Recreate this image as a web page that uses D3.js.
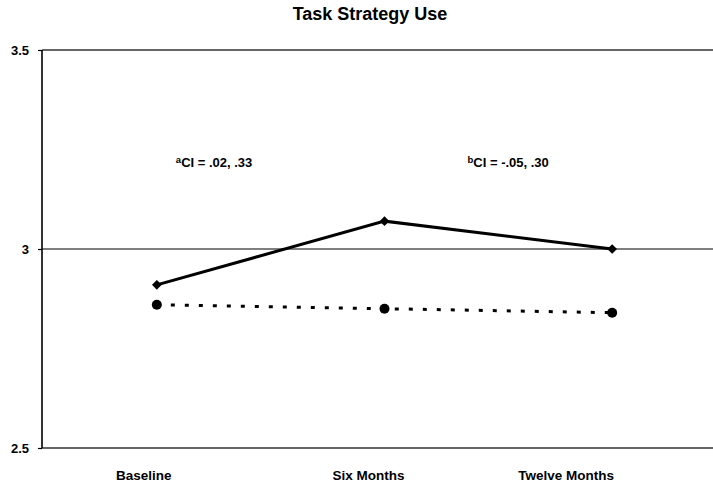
<!DOCTYPE html>
<html>
<head>
<meta charset="utf-8">
<script src="https://cdn.jsdelivr.net/npm/d3@7"></script>
<style>
  body { margin: 0; background: #fff; }
  svg { display: block; font-family: "Liberation Sans", Arial, sans-serif; }
  .tick text { font-weight: bold; fill: #000; }
</style>
</head>
<body>
<div id="chart"></div>
<script>
// data van de grafiek
const categories = ["Baseline", "Six Months", "Twelve Months"];
const solidValues = [2.91, 3.07, 3.00];
const dashedValues = [2.86, 2.85, 2.84];
const yTicks = [2.5, 3, 3.5];
const ciNotes = [
  {sup: "a", text: "CI = .02, .33"},
  {sup: "b", text: "CI = -.05, .30"}
];

// afmetingen
const width = 713;
const height = 484;
const plot = {left: 42, right: 713, top: 50, bottom: 448};

const svg = d3.select("#chart")
  .append("svg")
    .attr("width", width)
    .attr("height", height);

// schalen
const xScale = d3.scaleBand()
    .domain(categories)
    .range([43, 726]);

const yScale = d3.scaleLinear()
    .domain([2.5, 3.5])
    .range([plot.bottom, plot.top]);

const xc = function (d, i) { return xScale(categories[i]) + xScale.bandwidth() / 2; };

// titel
svg.append("text")
    .attr("x", 370)
    .attr("y", 20)
    .attr("text-anchor", "middle")
    .style("font-size", "18px")
    .style("font-weight", "bold")
    .text("Task Strategy Use");

// rasterlijnen
svg.append("g")
    .selectAll("line")
    .data(yTicks)
    .join("line")
      .attr("x1", plot.left)
      .attr("x2", plot.right)
      .attr("y1", d => yScale(d))
      .attr("y2", d => yScale(d))
      .attr("stroke", d => d == 3 ? "#555" : "#333")
      .attr("stroke-width", 1.4);

// y-as
const yAxis = svg.append("g")
    .attr("transform", "translate(" + plot.left + ",0)")
    .call(d3.axisLeft(yScale)
      .tickValues(yTicks)
      .tickSize(4)
      .tickPadding(9)
      .tickFormat(d => String(d)));
yAxis.select(".domain").remove();
yAxis.selectAll(".tick line").attr("stroke", "#000").attr("stroke-width", 1.2);
yAxis.selectAll(".tick text").style("font-size", "13px");

svg.append("line")
    .attr("x1", plot.left).attr("x2", plot.left)
    .attr("y1", plot.top).attr("y2", plot.bottom)
    .attr("stroke", "#000")
    .attr("stroke-width", 1.6);

// x-as labels
const labelNudge = [-13, -16, -46];
const xAxis = svg.append("g")
    .attr("transform", "translate(0," + plot.bottom + ")")
    .call(d3.axisBottom(xScale).tickSize(0).tickPadding(22));
xAxis.select(".domain").remove();
xAxis.selectAll(".tick text")
    .style("font-size", "13.5px")
    .attr("dx", (d, i) => labelNudge[i]);

// CI notities
const notePos = [{dx: 19, cat: 0}, {dx: 83, cat: 1}];
const notes = svg.append("g")
  .selectAll("text")
  .data(ciNotes)
  .join("text")
    .attr("x", (d, i) => xc(null, notePos[i].cat) + notePos[i].dx)
    .attr("y", yScale(3.208))
    .style("font-size", "13px")
    .style("font-weight", "bold");
notes.append("tspan")
    .attr("dy", "-0.35em")
    .style("font-size", "9.5px")
    .text(d => d.sup);
notes.append("tspan")
    .attr("dy", "0.35em")
    .text(d => d.text);

// lijnen
const line = d3.line()
    .x(xc)
    .y(d => yScale(d));

svg.append("path")
    .datum(dashedValues)
    .attr("d", line)
    .attr("fill", "none")
    .attr("stroke", "#000")
    .attr("stroke-width", 3)
    .attr("stroke-dasharray", "4,10");

svg.append("path")
    .datum(solidValues)
    .attr("d", line)
    .attr("fill", "none")
    .attr("stroke", "#000")
    .attr("stroke-width", 3);

// markers
svg.append("g")
  .selectAll("circle")
  .data(dashedValues)
  .join("circle")
    .attr("cx", xc)
    .attr("cy", d => yScale(d))
    .attr("r", 5)
    .attr("fill", "#000");

svg.append("g")
  .selectAll("path")
  .data(solidValues)
  .join("path")
    .attr("d", d3.symbol().type(d3.symbolDiamond2).size(60))
    .attr("transform", (d, i) => "translate(" + xc(d, i) + "," + yScale(d) + ")")
    .attr("fill", "#000");
</script>
</body>
</html>
